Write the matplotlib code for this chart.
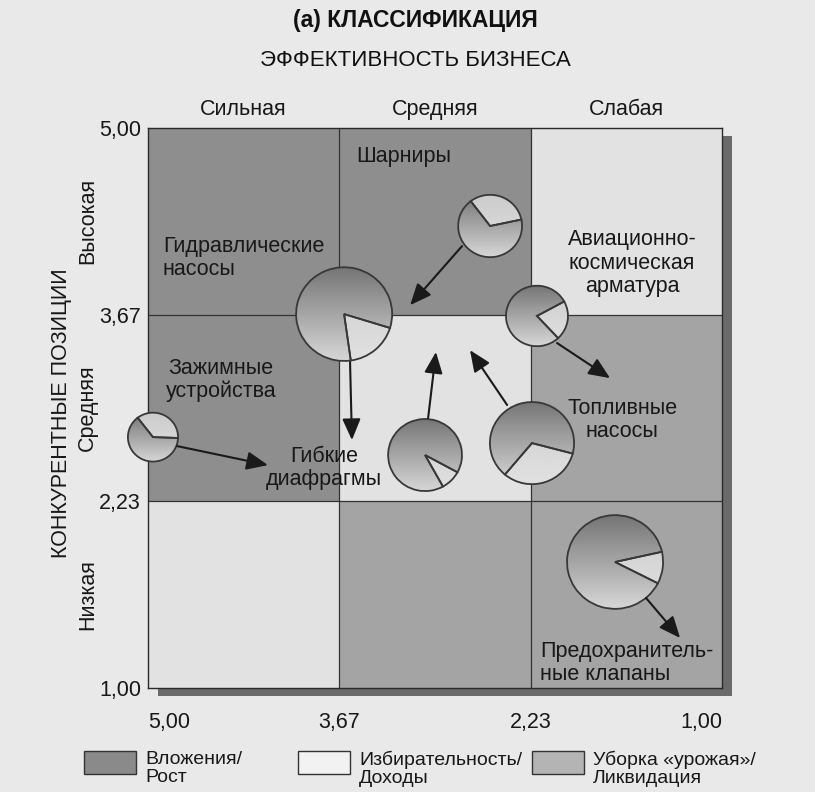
import numpy as np
import matplotlib
matplotlib.use('Agg')
import matplotlib.pyplot as plt
from matplotlib.colors import ListedColormap
from matplotlib.patches import Rectangle

plt.rcParams['font.family'] = ['Liberation Sans', 'DejaVu Sans']

# оси матрицы: 0..3 по ячейкам (слева сильная -> справа слабая, снизу низкая -> сверху высокая)
x_ticklabels = ['5,00', '3,67', '2,23', '1,00']
y_ticklabels = ['1,00', '2,23', '3,67', '5,00']
col_names = ['Сильная', 'Средняя', 'Слабая']
row_names = ['Низкая', 'Средняя', 'Высокая']

# 0 - вложения/рост, 1 - избирательность, 2 - уборка урожая (строки снизу вверх)
cell_type = [[1, 2, 2],
             [0, 1, 2],
             [0, 0, 1]]
type_colors = ['#8e8e8e', '#e2e2e2', '#a4a4a4']
legend_labels = ['Вложения/\nРост', 'Избирательность/\nДоходы', 'Уборка «урожая»/\nЛиквидация']
legend_colors = ['#8a8a8a', '#f2f2f2', '#b4b4b4']

# круговые диаграммы бизнес-единиц
pie_x = [1.788, 1.025, 2.033, 0.026, 1.448, 2.007, 2.441]
pie_y = [2.475, 2.003, 1.993, 1.344, 1.248, 1.312, 0.675]
pie_r = [0.167, 0.251, 0.162, 0.131, 0.193, 0.220, 0.251]
light_share = [32, 18, 21, 36, 9, 32, 11]      # доля светлого сектора, %
light_start = [12, -82, -47, -2, -61, -130, -27]

# подписи
labels = ['Шарниры', 'Гидравлические\nнасосы', 'Авиационно-\nкосмическая\nарматура',
          'Зажимные\nустройства', 'Гибкие\nдиафрагмы', 'Топливные\nнасосы',
          'Предохранитель-\nные клапаны']
label_x = [1.087, 0.078, 2.530, 0.382, 0.920, 2.478, 2.049]
label_y = [2.849, 2.303, 2.276, 1.650, 1.178, 1.435, 0.135]
label_ha = ['left', 'left', 'center', 'center', 'center', 'center', 'left']

# стрелки (откуда -> куда)
arrow_from = [(1.641, 2.367), (1.056, 1.746), (0.152, 1.296), (1.464, 1.446),
              (1.877, 1.516), (2.138, 1.848), (2.603, 0.482)]
arrow_to = [(1.370, 2.051), (1.066, 1.328), (0.627, 1.194), (1.505, 1.800),
            (1.683, 1.810), (2.415, 1.660), (2.781, 0.268)]

fig = plt.figure(figsize=(8.15, 7.92), dpi=100, facecolor='#e9e9e9')
ax = fig.add_axes([148 / 815, 1 - 688 / 792, 574 / 815, 560 / 792])

# фон ячеек
ax.pcolormesh(np.arange(4), np.arange(4), np.array(cell_type),
              cmap=ListedColormap(type_colors), vmin=-0.5, vmax=2.5, zorder=0)
for v in [1, 2]:
    ax.axvline(v, color='#333333', lw=0.9, zorder=1)
    ax.axhline(v, color='#333333', lw=0.9, zorder=1)

# тень
ax.add_patch(Rectangle((0.05, -0.045), 3.0, 3.0, facecolor='#6a6a6a',
                       edgecolor='none', zorder=-1, clip_on=False))

# пироги с градиентной заливкой
grad = np.linspace(0, 1, 100).reshape(-1, 1)
for i in range(len(pie_x)):
    wedges, _ = ax.pie([light_share[i], 100 - light_share[i]],
                       center=(pie_x[i], pie_y[i]), radius=pie_r[i],
                       startangle=light_start[i], frame=True,
                       wedgeprops=dict(facecolor='none', edgecolor='#383838', lw=1.3))
    ext = (pie_x[i] - pie_r[i], pie_x[i] + pie_r[i], pie_y[i] - pie_r[i], pie_y[i] + pie_r[i])
    for w, (lo, hi) in zip(wedges, [(0.80, 0.88), (0.46, 0.84)]):
        w.set_zorder(4)
        w.set_clip_on(False)
        im = ax.imshow(lo + (hi - lo) * grad, extent=ext, origin='upper', cmap='gray',
                       vmin=0, vmax=1, aspect='auto', zorder=3)
        im.set_clip_box(fig.bbox)
        im.set_clip_path(w)

for (x0, y0), (x1, y1) in zip(arrow_from, arrow_to):
    ax.annotate('', xy=(x1, y1), xytext=(x0, y0),
                arrowprops=dict(arrowstyle='-|>,head_length=0.65,head_width=0.28',
                                color='#1a1a1a', lw=1.5, mutation_scale=20,
                                shrinkA=0, shrinkB=0), zorder=5)

for t, x, y, ha in zip(labels, label_x, label_y, label_ha):
    ax.text(x, y, t, ha=ha, va='center', fontsize=15.5, color='#181818',
            linespacing=1.15, zorder=6)

ax.set_aspect('auto')
ax.set_xlim(0, 3)
ax.set_ylim(0, 3)
ax.set_xticks(range(4))
ax.set_xticklabels(x_ticklabels, fontsize=15.5)
ax.set_yticks(range(4))
ax.set_yticklabels(y_ticklabels, fontsize=15.5)
xt = ax.get_xticklabels()
xt[0].set_ha('left')
xt[-1].set_ha('right')
ax.tick_params(axis='x', length=0, pad=17, colors='#181818')
ax.tick_params(axis='y', length=0, pad=5, colors='#181818')
for s in ax.spines.values():
    s.set_color('#2a2a2a')
    s.set_linewidth(1.0)
    s.set_zorder(2)

for i, name in enumerate(col_names):
    ax.annotate(name, xy=(i + 0.5, 3), xytext=(0, 6), textcoords='offset points',
                ha='center', va='bottom', fontsize=15.5, color='#181818')
for i, name in enumerate(row_names):
    ax.text(-0.105, (i + 0.5) / 3, name, transform=ax.transAxes, rotation=90,
            ha='center', va='center', fontsize=15.5, color='#181818')
ax.text(-0.15, 0.49, 'КОНКУРЕНТНЫЕ ПОЗИЦИИ', transform=ax.transAxes, rotation=90,
        ha='center', va='center', fontsize=15.5, color='#181818')

fig.text(415 / 815, 1 - 21 / 792, '(а) КЛАССИФИКАЦИЯ', ha='center', va='center',
         fontsize=16.5, fontweight='bold', color='#111111')
fig.text(415 / 815, 1 - 60 / 792, 'ЭФФЕКТИВНОСТЬ БИЗНЕСА', ha='center', va='center',
         fontsize=16, color='#111111')

# легенда
leg_x = [84, 298, 532]
for x, c, t in zip(leg_x, legend_colors, legend_labels):
    fig.patches.append(Rectangle((x / 815, 1 - 774 / 792), 52 / 815, 23 / 792,
                                 transform=fig.transFigure, facecolor=c,
                                 edgecolor='#333333', lw=1.0))
    fig.text((x + 61) / 815, 1 - 751 / 792, t, ha='left', va='top', fontsize=14,
             color='#181818', linespacing=1.05)

fig.savefig('out.png', dpi=100, facecolor=fig.get_facecolor())
